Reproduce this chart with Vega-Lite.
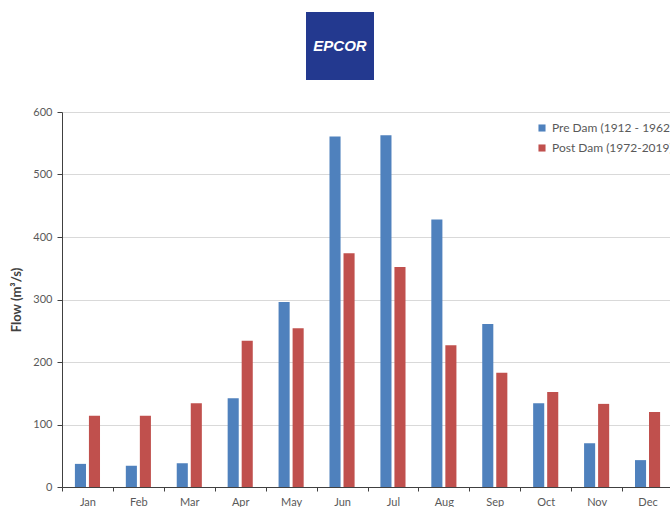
{
  "$schema": "https://vega.github.io/schema/vega-lite/v6.json",
  "padding": {"left": 10, "top": 12, "right": 0, "bottom": 0},
  "background": "white",
  "config": {"view": {"stroke": null}, "font": "Lato", "concat": {"spacing": 26}},
  "center": false,
  "resolve": {"legend": {"color": "independent"}, "scale": {"color": "independent", "x": "independent"}},
  "datasets": {
    "logo": [{"name": "EPCOR"}],
    "flows": [
      {"month": "Jan", "series": "Pre Dam (1912 - 1962)", "flow": 37},
      {"month": "Feb", "series": "Pre Dam (1912 - 1962)", "flow": 34},
      {"month": "Mar", "series": "Pre Dam (1912 - 1962)", "flow": 38},
      {"month": "Apr", "series": "Pre Dam (1912 - 1962)", "flow": 142},
      {"month": "May", "series": "Pre Dam (1912 - 1962)", "flow": 296},
      {"month": "Jun", "series": "Pre Dam (1912 - 1962)", "flow": 561},
      {"month": "Jul", "series": "Pre Dam (1912 - 1962)", "flow": 563},
      {"month": "Aug", "series": "Pre Dam (1912 - 1962)", "flow": 428},
      {"month": "Sep", "series": "Pre Dam (1912 - 1962)", "flow": 261},
      {"month": "Oct", "series": "Pre Dam (1912 - 1962)", "flow": 134},
      {"month": "Nov", "series": "Pre Dam (1912 - 1962)", "flow": 70},
      {"month": "Dec", "series": "Pre Dam (1912 - 1962)", "flow": 43},
      {"month": "Jan", "series": "Post Dam (1972-2019)", "flow": 114},
      {"month": "Feb", "series": "Post Dam (1972-2019)", "flow": 114},
      {"month": "Mar", "series": "Post Dam (1972-2019)", "flow": 134},
      {"month": "Apr", "series": "Post Dam (1972-2019)", "flow": 234},
      {"month": "May", "series": "Post Dam (1972-2019)", "flow": 254},
      {"month": "Jun", "series": "Post Dam (1972-2019)", "flow": 374},
      {"month": "Jul", "series": "Post Dam (1972-2019)", "flow": 352},
      {"month": "Aug", "series": "Post Dam (1972-2019)", "flow": 227},
      {"month": "Sep", "series": "Post Dam (1972-2019)", "flow": 183},
      {"month": "Oct", "series": "Post Dam (1972-2019)", "flow": 152},
      {"month": "Nov", "series": "Post Dam (1972-2019)", "flow": 133},
      {"month": "Dec", "series": "Post Dam (1972-2019)", "flow": 120}
    ]
  },
  "vconcat": [
    {
      "data": {"name": "logo"},
      "width": 556,
      "height": 68,
      "encoding": {
        "x": {"field": "name", "type": "nominal", "axis": null, "scale": {"paddingInner": 0, "paddingOuter": 0}}
      },
      "layer": [
        {"mark": {"type": "bar", "color": "#23398f", "width": 68}},
        {
          "mark": {"type": "text", "color": "white", "fontSize": 15, "fontWeight": "bold", "fontStyle": "italic", "font": "Liberation Sans", "align": "center", "baseline": "middle"},
          "encoding": {"text": {"field": "name"}}
        }
      ]
    },
    {
      "data": {"name": "flows"},
      "width": 611,
      "height": 375,
      "mark": {"type": "bar"},
      "encoding": {
        "x": {
          "field": "month", "type": "nominal", "sort": null,
          "scale": {"paddingInner": 0, "paddingOuter": 0},
          "axis": {"title": null, "labelAngle": 0, "tickBand": "extent", "labelColor": "#595959", "labelFontSize": 11, "domainColor": "#404040", "tickColor": "#404040", "tickSize": 4, "labelPadding": 5}
        },
        "xOffset": {
          "field": "series", "type": "nominal", "sort": ["Pre Dam (1912 - 1962)", "Post Dam (1972-2019)"],
          "scale": {"paddingInner": 0.21, "paddingOuter": 0.92}
        },
        "y": {
          "field": "flow", "type": "quantitative",
          "scale": {"domain": [0, 600]},
          "axis": {"title": "Flow (m³/s)", "titleFontSize": 13, "titleFontWeight": "bold", "titleColor": "#404040", "titlePadding": 9, "values": [0, 100, 200, 300, 400, 500, 600], "labelColor": "#595959", "labelFontSize": 11, "domainColor": "#404040", "tickColor": "#404040", "tickSize": 5, "gridColor": "#d9d9d9", "labelPadding": 5}
        },
        "color": {
          "field": "series", "type": "nominal", "sort": ["Pre Dam (1912 - 1962)", "Post Dam (1972-2019)"],
          "scale": {"range": ["#4f81bd", "#c0504d"]},
          "legend": {"title": null, "orient": "none", "legendX": 474, "legendY": 10, "symbolType": "square", "symbolSize": 50, "labelFontSize": 12, "labelColor": "#595959", "rowPadding": 8, "labelOffset": 4, "symbolStrokeWidth": 0}
        }
      }
    }
  ]
}
